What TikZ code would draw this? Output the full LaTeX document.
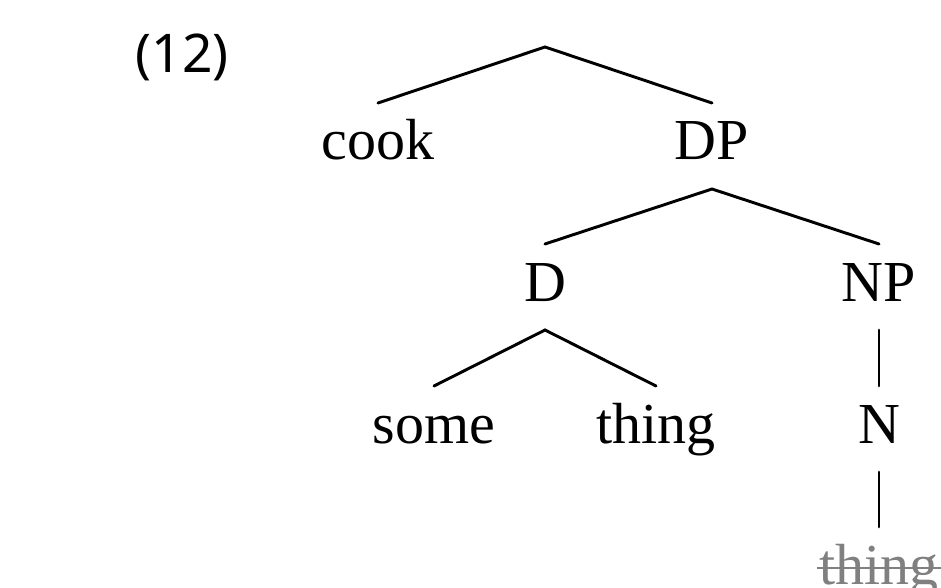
\documentclass[tikz,border=0pt]{standalone}
\usepackage{fontspec}
\setmainfont{Liberation Serif}
\newfontfamily\numfont{Noto Sans}
\begin{document}
\begin{tikzpicture}[x=0.75pt,y=-0.75pt,
  lbl/.style={anchor=base, inner xsep=0pt, inner ysep=0pt, outer sep=0pt,
    text height=42.75pt, text depth=21.75pt,
    font=\fontsize{43.5}{52}\selectfont},
  branch/.style={line width=2.2pt, line cap=round},
  traced/.style={lbl, text=black!50}]
\useasboundingbox (0,0) rectangle (941,588);

% example number
\node[anchor=base, inner sep=0pt, font=\numfont\fontsize{40}{48}\selectfont] (num) at (182,73) {(12)};

% tree
\coordinate (root) at (545,47);
\node[lbl] (cook) at (378,160) {cook};
\node[lbl] (DP)   at (712,160) {DP};
\node[lbl] (D)    at (545,301) {D};
\node[lbl] (NP)   at (879,301) {NP};
\node[lbl] (some) at (434,443) {some};
\node[lbl] (thing) at (656,443) {thing};
\node[lbl] (N)    at (879,443) {N};
\node[traced] (copy) at (879,584) {thing};

\draw[branch] (cook.north) -- (root) -- (DP.north);
\draw[branch] (D.north) -- (DP.south) -- (NP.north);
\draw[branch] (some.north) -- (D.south) -- (thing.north);
\draw[branch] (NP.south) -- (N.north);
\draw[branch] (N.south) -- (copy.north);

% deleted copy
\draw[black!50, line width=1pt] ([xshift=-2pt,yshift=12pt]copy.base west) -- ([xshift=2pt,yshift=12pt]copy.base east);
\end{tikzpicture}
\end{document}
